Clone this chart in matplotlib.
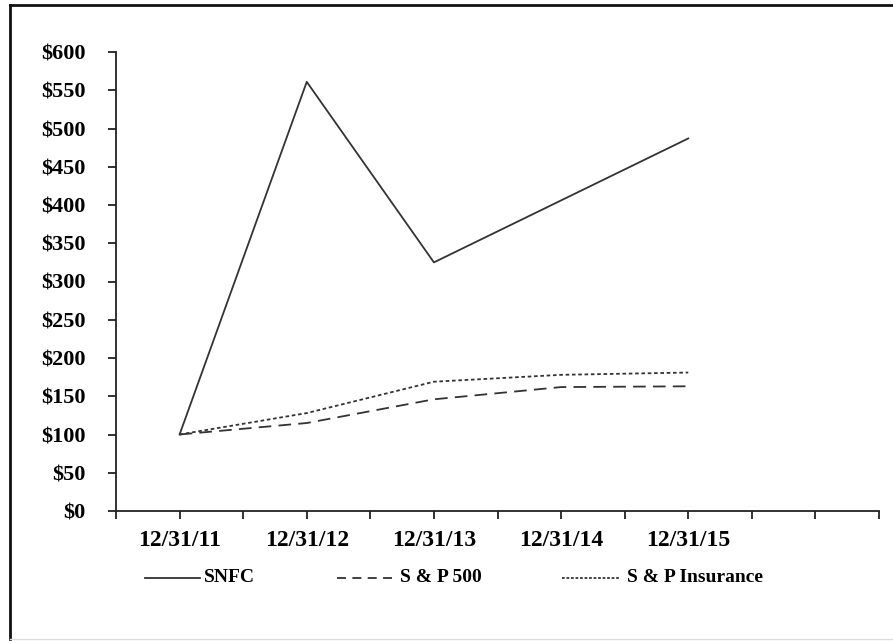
import matplotlib
matplotlib.use("Agg")
import matplotlib.pyplot as plt
from matplotlib.lines import Line2D
import numpy as np

dates = ["12/31/11", "12/31/12", "12/31/13", "12/31/14", "12/31/15"]
snfc = [100, 561, 325, 406, 487]
sp500 = [100, 115, 146, 162, 163]
sp_ins = [100, 128, 169, 178, 181]
series_names = ["SNFC", "S & P 500", "S & P Insurance"]
yticks = list(range(0, 601, 50))
ytick_labels = [f"${v}" for v in yticks]

plt.rcParams['font.family'] = ['Liberation Serif', 'DejaVu Serif']

W, H = 893, 641
fig = plt.figure(figsize=(W/100, H/100), dpi=100)
ax = fig.add_axes([116/W, 1 - 511/H, (879-116)/W, (511-52)/H])

x = np.arange(len(dates)) + 0.5
col = '#333333'
styles = ['-', (0, (7, 4)), (0, (2, 1.5))]
lines = []
for vals, name, ls in zip([snfc, sp500, sp_ins], series_names, styles):
    ln, = ax.plot(x, vals, color=col, lw=1.3, linestyle=ls, label=name)
    lines.append(ln)

ax.set_xlim(0, 6)
ax.set_ylim(0, 600)
ax.set_yticks(yticks)
ax.set_yticklabels(ytick_labels, fontsize=16, fontweight='bold')
ax.set_xticks(x)
ax.set_xticklabels(dates, fontsize=17, fontweight='bold')
ax.set_xticks([v for v in np.arange(0, 6.01, 0.5) if v not in x], minor=True)

for s in ['top', 'right']:
    ax.spines[s].set_visible(False)
for s in ['left', 'bottom']:
    ax.spines[s].set_color('#222222')
    ax.spines[s].set_linewidth(1.3)
ax.tick_params(axis='y', direction='out', length=6, width=1.3, color='#222222', pad=16)
ax.tick_params(axis='x', which='both', direction='out', length=6, width=1.3, color='#222222', pad=8)

# legend entries placed to match the reference layout
leg_y = 1 - 578/H
handle_x = [(145, 200), (337, 392), (562, 620)]
text_x = [204, 400, 627]
leg_styles = ['-', (0, (5, 3.5)), (0, (1.5, 1))]
for ln, (x0, x1), tx, ls in zip(lines, handle_x, text_x, leg_styles):
    fig.add_artist(Line2D([x0/W, x1/W], [leg_y, leg_y], transform=fig.transFigure,
                          color=col, lw=1.3, linestyle=ls))
    fig.text(tx/W, leg_y, ln.get_label(), fontsize=14, fontweight='bold',
             ha='left', va='center')

# outer frame
fig.add_artist(Line2D([10/W, 10/W], [1 - 639/H, 1 - 5/H], transform=fig.transFigure, color='#111111', lw=2))
fig.add_artist(Line2D([10/W, 1.0], [1 - 5/H, 1 - 5/H], transform=fig.transFigure, color='#111111', lw=2))
fig.add_artist(Line2D([10/W, 1.0], [1 - 639/H, 1 - 639/H], transform=fig.transFigure, color='#dddddd', lw=1))

fig.savefig("out.png", dpi=100)
